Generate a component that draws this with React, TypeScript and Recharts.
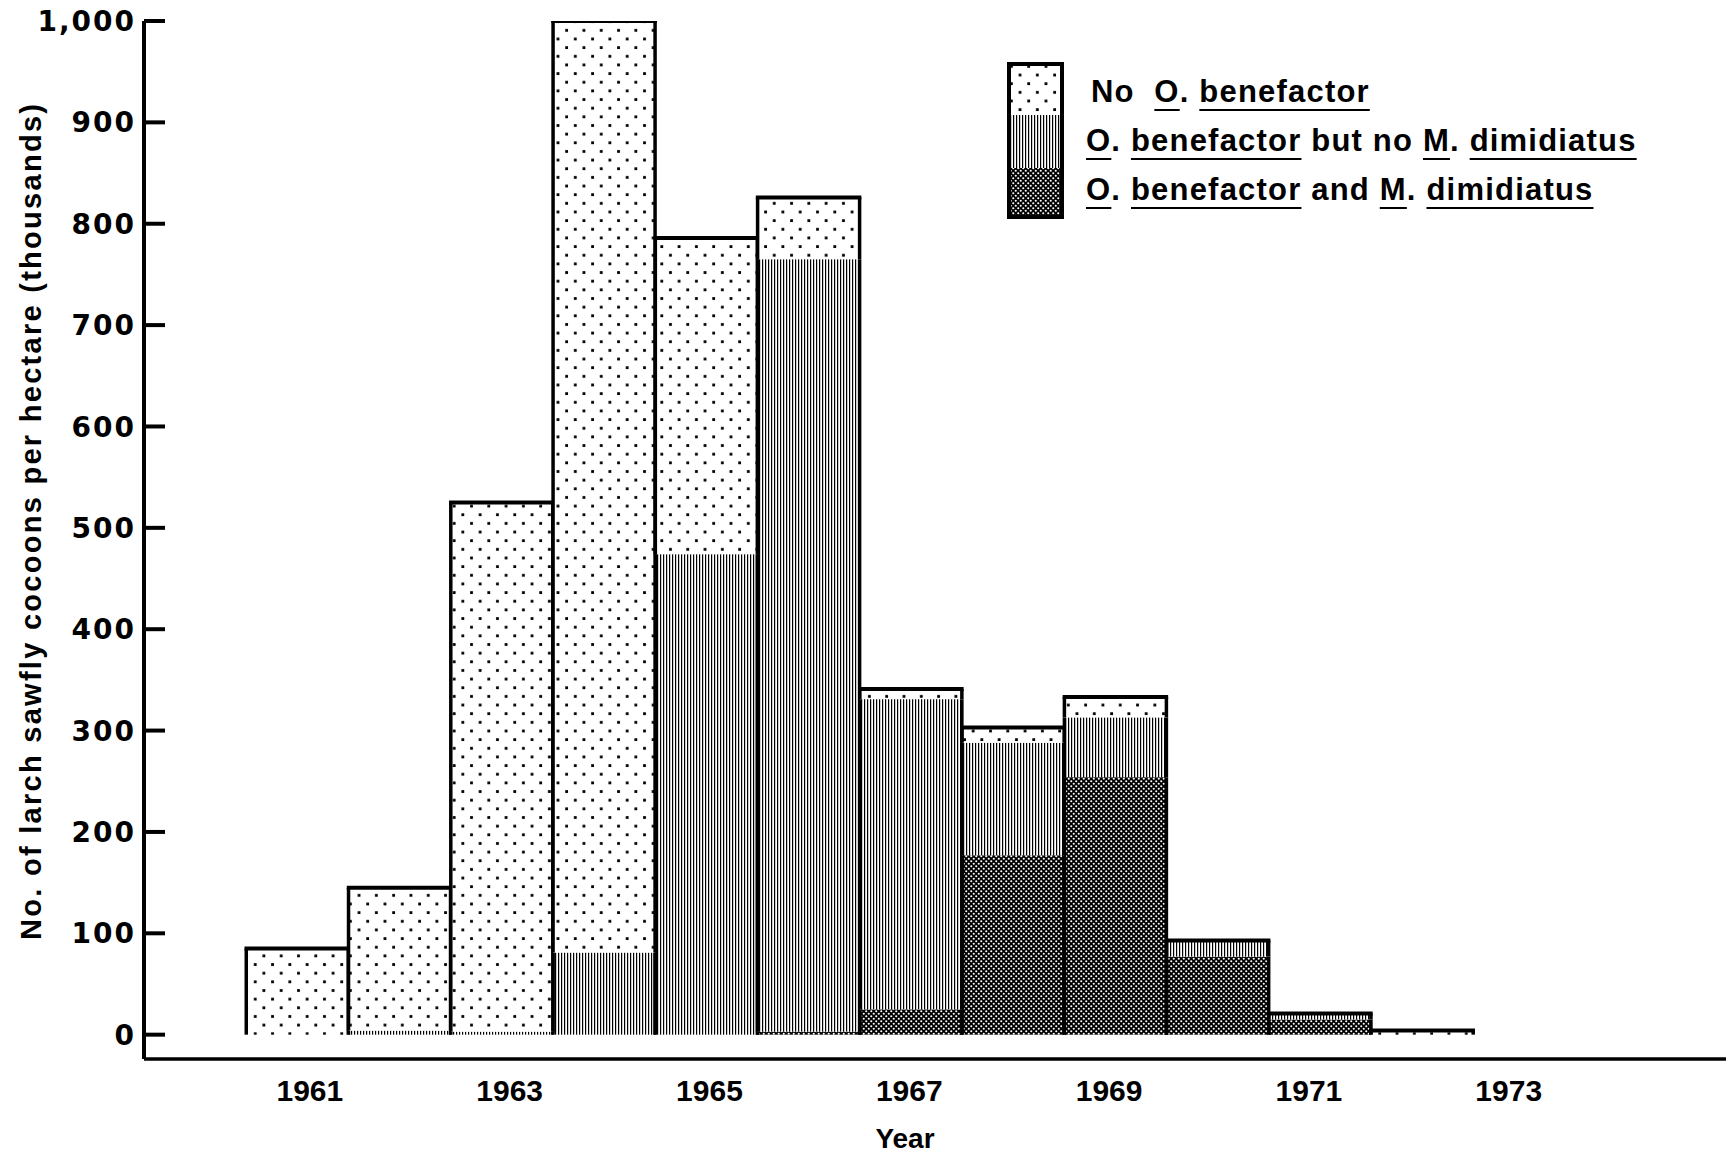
import React from "react";
import { BarChart, Bar, XAxis, YAxis, Legend } from "recharts";

// cocoon counts, thousands per hectare, by year of survey
const years = [1960, 1961, 1962, 1963, 1964, 1965, 1966, 1967, 1968, 1969, 1970, 1971, 1972, 1973, 1974];
const noBenefactor = [null, 85, 141, 522, 919, 312, 61, 10, 15, 20, 0, 0, 4, null, null];
const benefactorOnly = [null, 0, 4, 3, 81, 474, 762, 306, 111, 59, 16, 6, 0, null, null];
const benefactorAndDimidiatus = [null, 0, 0, 0, 0, 0, 3, 25, 177, 254, 77, 15, 0, null, null];

const yTicks = [0, 100, 200, 300, 400, 500, 600, 700, 800, 900, 1000];
const labelledYears = [1961, 1963, 1965, 1967, 1969, 1971, 1973];

const data = years.map((year, i) => ({
    year,
    both: benefactorAndDimidiatus[i],
    benefactor: benefactorOnly[i],
    none: noBenefactor[i],
}));

const STACK_ORDER = ["both", "benefactor", "none"];
const PATTERN = { none: "dots", benefactor: "vert", both: "cross" };
const INK = "#000";

const PatternDefs = ({ prefix }: { prefix: string }) => (
    <defs>
        <pattern id={`${prefix}-dots`} width={17.3} height={17.3} patternUnits="userSpaceOnUse">
            <rect width={17.3} height={17.3} fill="#fff" />
            <rect x={3} y={3} width={2.8} height={2.8} fill={INK} />
            <rect x={11.65} y={11.65} width={2.8} height={2.8} fill={INK} />
        </pattern>
        <pattern id={`${prefix}-vert`} width={3} height={10} patternUnits="userSpaceOnUse">
            <rect width={3} height={10} fill="#fff" />
            <rect x={0} width={1.2} height={10} fill={INK} />
        </pattern>
        <pattern id={`${prefix}-cross`} width={5} height={5} patternUnits="userSpaceOnUse">
            <rect width={5} height={5} fill={INK} />
            <circle cx={1.25} cy={1.25} r={1.05} fill="#fff" />
            <circle cx={3.75} cy={3.75} r={1.05} fill="#fff" />
        </pattern>
    </defs>
);

// each segment paints its pattern and its share of the bar outline
const makeShape = (key: string) => (props: any) => {
    const { x, y, width, height, payload } = props;
    if (height == null || width == null) return <g />;
    const idx = STACK_ORDER.indexOf(key);
    const value = payload[key] ?? 0;
    const above = STACK_ORDER.slice(idx + 1).reduce((s, k) => s + (payload[k] ?? 0), 0);
    const isTop = value > 0 && above === 0;
    return (
        <g>
            <rect x={x} y={y} width={width} height={height} fill={`url(#bars-${PATTERN[key]})`} />
            <line x1={x} x2={x} y1={y} y2={y + height} stroke={INK} strokeWidth={3.5} />
            <line x1={x + width} x2={x + width} y1={y} y2={y + height} stroke={INK} strokeWidth={3.5} />
            {isTop && <line x1={x - 1.75} x2={x + width + 1.75} y1={y} y2={y} stroke={INK} strokeWidth={4} />}
        </g>
    );
};

const YTick = ({ x, y, payload }: any) => (
    <g>
        <line x1={x + 10} x2={x + 31} y1={y} y2={y} stroke={INK} strokeWidth={4} />
        <text
            x={x + 2}
            y={y}
            dy="0.36em"
            textAnchor="end"
            fontFamily="'DejaVu Sans', sans-serif"
            fontWeight={700}
            fontSize={28}
            letterSpacing={2}
            fill={INK}
        >
            {payload.value === 1000 ? "1,000" : payload.value}
        </text>
    </g>
);

// the printed year labels sit slightly inside the bar centres
const XTick = ({ x, y, payload }: any) => {
    if (!labelledYears.includes(payload.value)) return <g />;
    const nudge = -1.7 - 2.36 * (payload.value - 1967);
    return (
        <text x={x + nudge} y={y + 42} textAnchor="middle" fontFamily="'Liberation Sans', Arial, sans-serif" fontWeight={700} fontSize={30} fill={INK}>
            {payload.value}
        </text>
    );
};

const u: React.CSSProperties = {
    textDecoration: "underline",
    textDecorationThickness: "2px",
    textUnderlineOffset: "7px",
};

const LegendBox = () => (
    <div style={{ display: "flex", alignItems: "flex-start", fontFamily: "'Liberation Sans', Arial, sans-serif", fontWeight: 700, fontSize: 31, color: INK }}>
        <svg width={57} height={157} style={{ display: "block" }}>
            <PatternDefs prefix="legend" />
            <rect x={2} y={2} width={53} height={51} fill="url(#legend-dots)" />
            <rect x={2} y={53} width={53} height={53} fill="url(#legend-vert)" />
            <rect x={2} y={106} width={53} height={49} fill="url(#legend-cross)" />
            <rect x={2} y={2} width={53} height={153} fill="none" stroke={INK} strokeWidth={4} />
        </svg>
        <div style={{ marginLeft: 22, paddingTop: 5, lineHeight: "49px", whiteSpace: "nowrap", letterSpacing: 1.2 }}>
            <div style={{ paddingLeft: 5 }}>
                No&nbsp; <span style={u}>O</span>. <span style={u}>benefactor</span>
            </div>
            <div>
                <span style={u}>O</span>. <span style={u}>benefactor</span> but&nbsp;no <span style={u}>M</span>. <span style={u}>dimidiatus</span>
            </div>
            <div>
                <span style={u}>O</span>. <span style={u}>benefactor</span> and <span style={u}>M</span>. <span style={u}>dimidiatus</span>
            </div>
        </div>
    </div>
);

export default function App() {
    return (
        <div style={{ position: "absolute", left: 0, top: 0, width: 1735, height: 1156, background: "#fff" }}>
            <BarChart
                width={1735}
                height={1156}
                data={data}
                margin={{ top: 21, right: 9, bottom: 0, left: 0 }}
                barCategoryGap={0}
                barGap={0}
            >
                <PatternDefs prefix="bars" />
                <XAxis
                    dataKey="year"
                    height={97}
                    interval={0}
                    padding={{ left: 0, right: 48 }}
                    tickLine={false}
                    tickSize={0}
                    tickMargin={0}
                    axisLine={{ stroke: INK, strokeWidth: 3.5 }}
                    tick={<XTick />}
                    label={{
                        content: () => (
                            <text x={905} y={1148} textAnchor="middle" fontFamily="'Liberation Sans', Arial, sans-serif" fontWeight={700} fontSize={28} fill={INK}>
                                Year
                            </text>
                        ),
                    }}
                />
                <YAxis
                    type="number"
                    width={144}
                    domain={[-24, 1000]}
                    allowDataOverflow
                    ticks={yTicks}
                    interval={0}
                    tickLine={false}
                    tickSize={0}
                    tickMargin={10}
                    axisLine={{ stroke: INK, strokeWidth: 4 }}
                    tick={<YTick />}
                    label={{
                        content: () => (
                            <text
                                x={41}
                                y={522}
                                transform="rotate(-90 41 522)"
                                textAnchor="middle"
                                textLength={836}
                                lengthAdjust="spacing"
                                fontFamily="'Liberation Sans Narrow', 'Liberation Sans', Arial, sans-serif"
                                fontWeight={700}
                                fontSize={29}
                                fill={INK}
                            >
                                No. of larch sawfly cocoons per hectare (thousands)
                            </text>
                        ),
                    }}
                />
                <Legend
                    layout="horizontal"
                    verticalAlign="middle"
                    align="center"
                    content={<LegendBox />}
                    wrapperStyle={{ position: "absolute", left: 1007, top: 62, width: 720, height: 160 }}
                />
                <Bar dataKey="both" stackId="a" isAnimationActive={false} shape={makeShape("both")} />
                <Bar dataKey="benefactor" stackId="a" isAnimationActive={false} shape={makeShape("benefactor")} />
                <Bar dataKey="none" stackId="a" isAnimationActive={false} shape={makeShape("none")} />
            </BarChart>
        </div>
    );
}
